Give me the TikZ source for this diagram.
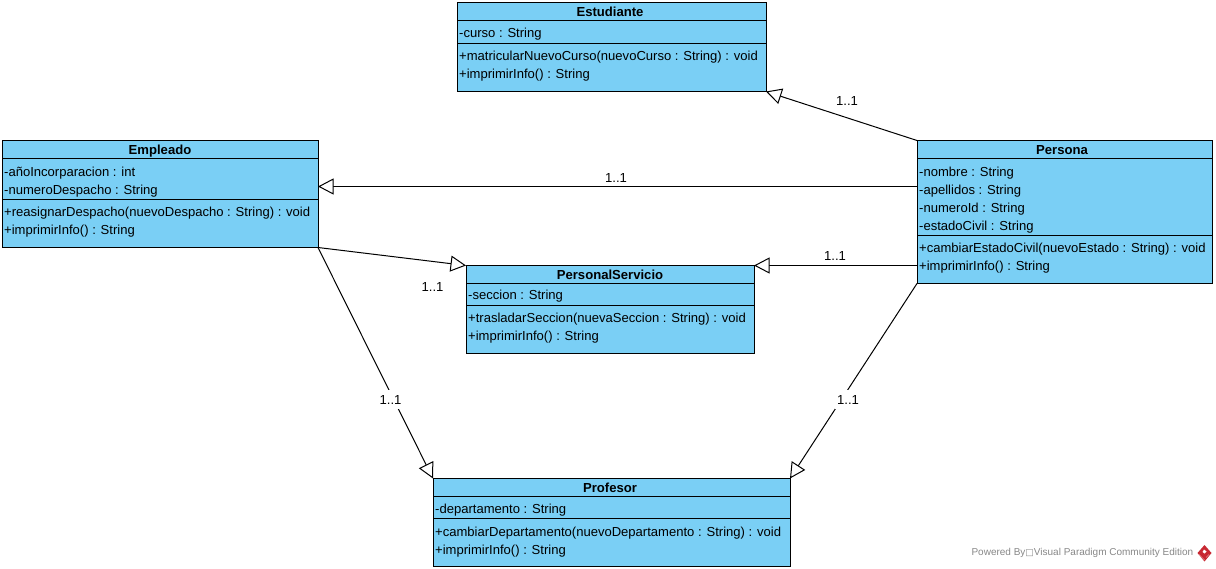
\documentclass[tikz,border=0pt]{standalone}
\usepackage{fontspec}
\setmainfont{Liberation Sans}
\newfontfamily\symfont{DejaVu Sans}
\usetikzlibrary{arrows.meta}
\definecolor{umlblue}{RGB}{122,207,245}
\definecolor{vpgrey}{RGB}{135,135,135}
\definecolor{vpred}{RGB}{200,40,50}
\tikzset{
  x=1pt,y=-1pt,
  umlbox/.style={draw=black,fill=umlblue,line width=1pt,anchor=north west,inner sep=0pt,outer sep=0pt},
  sepline/.style={draw=black,line width=0.9pt},
  umltitle/.style={font=\fontsize{13.1}{14}\selectfont\bfseries,inner sep=0pt,anchor=base,yshift=-4.5pt},
  member/.style={font=\fontsize{13.05}{14}\selectfont,inner sep=0pt,anchor=base west,yshift=-5pt,xshift=-1pt},
  mult/.style={font=\fontsize{13.1}{14}\selectfont,fill=white,inner sep=0pt,minimum width=26pt,minimum height=19pt,anchor=center,text depth=0pt},
  gen/.style={draw=black,line width=1pt,-{Triangle[length=15.5pt,width=16pt,fill=white,line width=1pt]}},
}
\newcommand{\umlbox}[5]{% name, x, y, width, height
  \node[umlbox,minimum width=#4pt,minimum height=#5pt] (#1) at (#2,#3) {};}
\begin{document}
\begin{tikzpicture}
\useasboundingbox (0,-0.5) rectangle (1216,568.5);
% Estudiante
\umlbox{est}{457}{2}{309}{89}
\draw[sepline] (457,20) -- (766,20) (457,43) -- (766,43);
\node[umltitle] (estT) at (610,12) {Estudiante};
\node[member] (estA) at (460,32) {-curso : String};
\node[member] (estO1) at (460,55) {+matricularNuevoCurso(nuevoCurso : String) : void};
\node[member] (estO2) at (460,73) {+imprimirInfo() : String};
% Empleado
\umlbox{emp}{2}{140}{316}{107}
\draw[sepline] (2,158) -- (318,158) (2,199) -- (318,199);
\node[umltitle] (empT) at (160,150) {Empleado};
\node[member] (empA1) at (5,171) {-añoIncorparacion : int};
\node[member] (empA2) at (5,189) {-numeroDespacho : String};
\node[member] (empO1) at (5,211) {+reasignarDespacho(nuevoDespacho : String) : void};
\node[member] (empO2) at (5,229) {+imprimirInfo() : String};
% Persona
\umlbox{per}{917}{140}{295}{143}
\draw[sepline] (917,158) -- (1212,158) (917,235) -- (1212,235);
\node[umltitle] (perT) at (1062,150) {Persona};
\node[member] (perA1) at (920,171) {-nombre : String};
\node[member] (perA2) at (920,189) {-apellidos : String};
\node[member] (perA3) at (920,207) {-numeroId : String};
\node[member] (perA4) at (920,225) {-estadoCivil : String};
\node[member] (perO1) at (920,247) {+cambiarEstadoCivil(nuevoEstado : String) : void};
\node[member] (perO2) at (920,265) {+imprimirInfo() : String};
% PersonalServicio
\umlbox{ser}{466}{265}{288}{88}
\draw[sepline] (466,283) -- (754,283) (466,305) -- (754,305);
\node[umltitle] (serT) at (610,274.5) {PersonalServicio};
\node[member] (serA) at (469,294.5) {-seccion : String};
\node[member] (serO1) at (469,317.5) {+trasladarSeccion(nuevaSeccion : String) : void};
\node[member] (serO2) at (469,335.5) {+imprimirInfo() : String};
% Profesor
\umlbox{pro}{433}{478}{357}{88}
\draw[sepline] (433,496) -- (790,496) (433,518) -- (790,518);
\node[umltitle] (proT) at (610,487.5) {Profesor};
\node[member] (proA) at (436,507.5) {-departamento : String};
\node[member] (proO1) at (436,530.5) {+cambiarDepartamento(nuevoDepartamento : String) : void};
\node[member] (proO2) at (436,548.5) {+imprimirInfo() : String};
% connector ends on the box edges
\coordinate (perL1) at (917,186);
\coordinate (empR1) at (318,186);
\coordinate (perL2) at (917,265);
\coordinate (serR1) at (754,265);
% connectors
\draw[gen] (per.north west) -- (est.south east);
\draw[gen] (perL1) -- (empR1);
\draw[gen] (perL2) -- (serR1);
\draw[gen] (per.south west) -- (pro.north east);
\draw[gen] (emp.south east) -- (ser.north west);
\draw[gen] (emp.south east) -- (pro.north west);
% multiplicities
\node[mult,fill=none] (m1) at (847,100.5) {1..1};
\node[mult,fill=none] (m2) at (616,177.5) {1..1};
\node[mult,fill=none] (m3) at (835,255.5) {1..1};
\node[mult] (m4) at (848,399) {1..1};
\node[mult,fill=none] (m5) at (432.5,286.5) {1..1};
\node[mult] (m6) at (390.5,399) {1..1};
% watermark
\node[font=\fontsize{10}{12}\selectfont,text=vpgrey,inner sep=0pt,anchor=east] (wm) at (1193.5,552.5) {Powered By{\symfont\fontsize{9}{10}\selectfont □}Visual Paradigm Community Edition};
\fill[vpred] (1204.5,544.5) -- (1211.5,552.5) -- (1204.5,561) -- (1197.5,552.5) -- cycle;
\fill[white] (1204,549) -- (1206.5,551) -- (1204.5,553) -- (1202.5,551.5) -- cycle;
\draw[white,line width=0.3pt] (1199,554) -- (1204.5,559.5) (1206,557) -- (1209,554);
\end{tikzpicture}
\end{document}
